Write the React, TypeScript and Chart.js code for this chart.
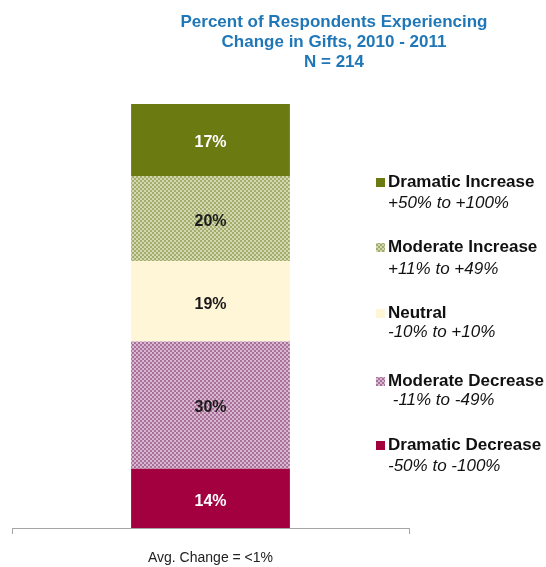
import React, { useEffect, useRef } from "react";
import { Chart, registerables } from "chart.js";

Chart.register(...registerables);

// ---- data ----
const categories = ["Avg. Change = <1%"];
// stacked bottom -> top
const seriesNames = ["Dramatic Decrease", "Moderate Decrease", "Neutral", "Moderate Increase", "Dramatic Increase"];
const seriesRanges = ["-50% to -100%", " -11% to -49%", "-10% to +10%", "+11% to +49%", "+50% to +100%"];
const seriesValues = [14, 30, 19, 20, 17];
const titleLines = ["Percent of Respondents Experiencing", "Change in Gifts, 2010 - 2011", "N = 214"];

const FONT = '"Liberation Sans", Arial, sans-serif';

function makePattern(dark: string, light: string): CanvasPattern | string {
  const c = document.createElement("canvas");
  c.width = 4;
  c.height = 4;
  const x = c.getContext("2d");
  if (!x) return dark;
  x.fillStyle = light;
  x.fillRect(0, 0, 4, 4);
  x.fillStyle = dark;
  x.fillRect(0, 0, 2, 2);
  x.fillRect(2, 2, 2, 2);
  const p = x.createPattern(c, "repeat");
  return p || dark;
}

export default function App() {
  const ref = useRef<HTMLCanvasElement | null>(null);

  useEffect(() => {
    if (!ref.current) return;
    document.body.style.margin = "0";
    const fills: (string | CanvasPattern)[] = [
      "#A3003F",
      makePattern("#a8709a", "#d8b8cf"),
      "#FFF5D7",
      makePattern("#a2ac6c", "#d3d8b0"),
      "#6C7A12",
    ];
    const labelColors = ["#ffffff", "#1a1a1a", "#1a1a1a", "#1a1a1a", "#ffffff"];

    const overlay = {
      id: "overlay",
      afterDraw(chart: any) {
        const ctx = chart.ctx as CanvasRenderingContext2D;
        ctx.save();
        // title
        ctx.fillStyle = "#1F77B7";
        ctx.font = `bold 17px ${FONT}`;
        ctx.textAlign = "center";
        ctx.textBaseline = "alphabetic";
        const tb = [27, 47, 67];
        titleLines.forEach((t, i) => ctx.fillText(t, 334, tb[i]));

        // bar labels
        ctx.font = `bold 16px ${FONT}`;
        ctx.textBaseline = "middle";
        chart.data.datasets.forEach((ds: any, i: number) => {
          const meta = chart.getDatasetMeta(i);
          meta.data.forEach((el: any, j: number) => {
            const cy = (el.y + el.base) / 2 + 3;
            ctx.fillStyle = labelColors[i];
            ctx.fillText(`${ds.data[j]}%`, el.x, cy);
          });
        });

        // legend (top to bottom = reverse of stack)
        const boldBase = [187, 252, 318, 386, 450];
        const italBase = [208, 274, 337, 405, 471];
        ctx.textAlign = "left";
        ctx.textBaseline = "alphabetic";
        for (let k = 0; k < seriesNames.length; k++) {
          const i = seriesNames.length - 1 - k;
          ctx.fillStyle = fills[i] as any;
          ctx.fillRect(376, boldBase[k] - 9, 9, 9);
          ctx.fillStyle = "#111111";
          ctx.font = `bold 17px ${FONT}`;
          ctx.fillText(seriesNames[i], 388, boldBase[k]);
          ctx.font = `italic 17px ${FONT}`;
          ctx.fillText(seriesRanges[i], 388, italBase[k]);
        }
        ctx.restore();
      },
    };

    const chart = new Chart(ref.current, {
      type: "bar",
      data: {
        labels: categories,
        datasets: seriesValues.map((v, i) => ({
          label: seriesNames[i],
          data: [v],
          backgroundColor: fills[i] as any,
          borderWidth: 0,
          barPercentage: 0.4,
          categoryPercentage: 1,
        })),
      },
      options: {
        animation: false,
        responsive: false,
        maintainAspectRatio: false,
        layout: { padding: { left: 12, right: 137, top: 104, bottom: 0 } },
        plugins: { legend: { display: false }, title: { display: false }, tooltip: { enabled: false } },
        scales: {
          x: {
            stacked: true,
            grid: { display: true, drawOnChartArea: false, drawTicks: true, tickLength: 6, color: "#a6a6a6" },
            border: { display: true, color: "#a6a6a6", width: 1 },
            ticks: { color: "#222222", font: { family: FONT, size: 14 }, padding: 16 },
            afterFit: (scale: any) => {
              scale.height = 39;
            },
          },
          y: {
            stacked: true,
            display: false,
            min: 0,
            max: 100,
          },
        },
      },
      plugins: [overlay],
    });
    return () => chart.destroy();
  }, []);

  return (
    <div style={{ position: "fixed", left: 0, top: 0, width: 546, height: 567, background: "#ffffff" }}>
      <canvas ref={ref} width={546} height={567} style={{ width: 546, height: 567, display: "block" }} />
    </div>
  );
}
